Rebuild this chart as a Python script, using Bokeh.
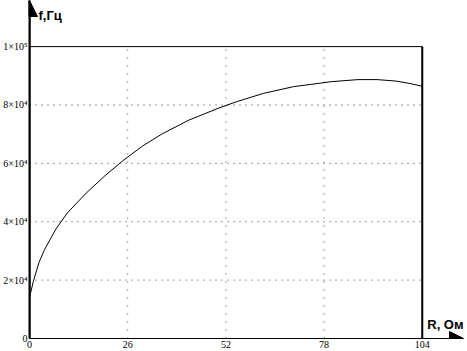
from bokeh.plotting import figure
from bokeh.models import Range1d, FixedTicker, Arrow, NormalHead, Label
from bokeh.embed import file_html
from bokeh.resources import INLINE

# data
R = [0, 1, 2.5, 4, 7, 10, 15, 20, 25, 30, 35, 42, 50, 55, 62, 70, 80, 87, 92, 97, 101, 104]
f = [14000, 19500, 26000, 30500, 37500, 43000, 49800, 55800, 61200, 66000, 70000, 74700,
     78900, 81200, 84000, 86300, 88000, 88700, 88700, 88200, 87300, 86400]
x_ticks = [0, 26, 52, 78, 104]
y_ticks = [0, 20000, 40000, 60000, 80000, 100000]
y_tick_labels = ["0", "2×10⁴", "4×10⁴", "6×10⁴", "8×10⁴", "1×10⁵"]
x_tick_labels = ["0", "26", "52", "78", "104"]
x_label = "R, Ом"
y_label = "f,Гц"

xmax = x_ticks[-1]
ymax = y_ticks[-1]
x_end = xmax * 1.105
y_end = ymax * 1.158

p = figure(width=464, height=350, output_backend="svg", toolbar_location=None,
           x_range=Range1d(0, x_end), y_range=Range1d(0, y_end),
           min_border_left=0, min_border_right=1, min_border_top=0, min_border_bottom=0)
p.outline_line_color = None
p.background_fill_color = "white"
p.xgrid.visible = False
p.ygrid.visible = False

for ax, ticks, labels in ((p.xaxis[0], x_ticks, x_tick_labels), (p.yaxis[0], y_ticks, y_tick_labels)):
    ax.ticker = FixedTicker(ticks=ticks)
    ax.major_label_overrides = {t: l for t, l in zip(ticks, labels)}
    ax.major_tick_in = 0
    ax.major_tick_out = 0
    ax.minor_tick_in = 0
    ax.minor_tick_out = 0
    ax.major_label_standoff = 2
    ax.major_label_text_font = "Liberation Serif"
    ax.major_label_text_font_size = "10px"
    ax.major_label_text_color = "black"
    ax.axis_line_color = "black"
p.yaxis[0].axis_line_width = 2
p.xaxis[0].axis_line_width = 1

# grid (dotted)
p.segment(x0=[x_ticks[0]] * 4, x1=[xmax] * 4, y0=y_ticks[1:-1], y1=y_ticks[1:-1],
          line_color="black", line_width=1, line_dash="1 5", line_alpha=0.75)
p.segment(x0=x_ticks[1:-1], x1=x_ticks[1:-1], y0=[0] * 3, y1=[ymax] * 3,
          line_color="black", line_width=1, line_dash="1 7", line_alpha=0.75)

# border lines
p.line([x_ticks[0], xmax], [ymax, ymax], line_color="black", line_width=1)
p.line([xmax, xmax], [0, ymax], line_color="black", line_width=2)

# curve
p.line(R, f, line_color="black", line_width=1)

# axis arrows
p.add_layout(Arrow(end=NormalHead(size=16, fill_color="black", line_color="black"),
                   x_start=0, y_start=0, x_end=0, y_end=y_end,
                   line_color="black", line_width=2))
p.add_layout(Arrow(end=NormalHead(size=14, fill_color="black", line_color="black"),
                   x_start=0, y_start=0, x_end=x_end, y_end=0,
                   line_color="black", line_width=1))

p.add_layout(Label(x=0, y=y_end, x_offset=9, y_offset=-7, text=y_label,
                   text_font="Liberation Sans", text_font_style="bold",
                   text_font_size="13px", text_baseline="top", text_color="black"))
p.add_layout(Label(x=xmax, y=0, x_offset=5, y_offset=14, text=x_label,
                   text_font="Liberation Sans", text_font_style="bold",
                   text_font_size="13px", text_baseline="alphabetic", text_color="black"))

open("out.html", "w").write(file_html(p, INLINE))
